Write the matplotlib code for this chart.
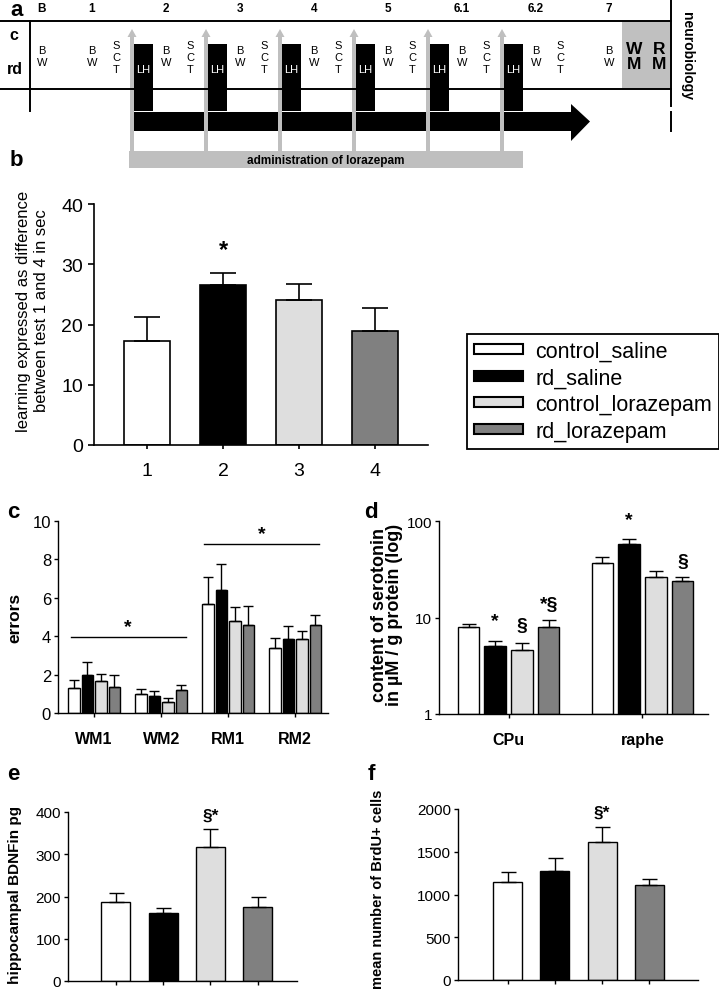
import numpy as np
import matplotlib
matplotlib.use("Agg")
import matplotlib.pyplot as plt
from matplotlib.patches import Rectangle, Polygon, Patch

plt.rcParams['font.family'] = ['Liberation Sans', 'DejaVu Sans']

# groups and colours
groups = ['control_saline', 'rd_saline', 'control_lorazepam', 'rd_lorazepam']
colors = ['white', 'black', '#dedede', '#808080']

# panel b: learning (test 1 - test 4)
b_x = [1, 2, 3, 4]
b_mean = [17.3, 26.5, 24.1, 19.0]
b_err = [4.0, 2.1, 2.7, 3.7]

# panel c: errors in maze
c_cats = ['WM1', 'WM2', 'RM1', 'RM2']
c_ctrl_sal = [1.3, 1.0, 5.7, 3.4]
c_rd_sal = [2.0, 0.9, 6.4, 3.85]
c_ctrl_lor = [1.68, 0.55, 4.8, 3.85]
c_rd_lor = [1.37, 1.18, 4.56, 4.56]
c_ctrl_sal_err = [0.4, 0.25, 1.4, 0.5]
c_rd_sal_err = [0.67, 0.25, 1.36, 0.7]
c_ctrl_lor_err = [0.35, 0.25, 0.73, 0.43]
c_rd_lor_err = [0.61, 0.28, 1.0, 0.55]

# panel d: serotonin (log)
d_cats = ['CPu', 'raphe']
d_ctrl_sal = [7.9, 37.0]
d_rd_sal = [5.1, 58.0]
d_ctrl_lor = [4.6, 26.5]
d_rd_lor = [7.9, 24.0]
d_ctrl_sal_err = [0.6, 5.0]
d_rd_sal_err = [0.6, 7.0]
d_ctrl_lor_err = [0.8, 3.5]
d_rd_lor_err = [1.6, 2.0]

# panel e: BDNF
e_mean = [188, 162, 318, 175]
e_err = [20, 11, 41, 25]

# panel f: BrdU+ cells
f_mean = [1148, 1277, 1617, 1109]
f_err = [110, 153, 176, 71]

# panel a: schedule
head_labels = ['B', '1', '2', '3', '4', '5', '6.1', '6.2', '7']
lh_blocks = ['2', '3', '4', '5', '6.1', '6.2']

W, H = 719, 995
fig = plt.figure(figsize=(W / 100, H / 100), dpi=100)

def px_axes(l, r, t, b):
    return fig.add_axes([l / W, 1 - b / H, (r - l) / W, (b - t) / H])

# ---------------- panel a (drawn in pixel coords) ----------------
ax0 = fig.add_axes([0, 0, 1, 1])
ax0.set_xlim(0, W)
ax0.set_ylim(H, 0)
ax0.axis('off')

grey = '#bfbfbf'
step = 74
ax0.add_patch(Rectangle((622, 22), 49, 68, fc='#c0c0c0', ec='none'))
ax0.plot([0, 671], [22, 22], 'k', lw=1.4)
ax0.plot([0, 671], [90, 90], 'k', lw=1.4)
ax0.plot([30, 30], [22, 112], 'k', lw=1.4)
ax0.plot([671, 671], [0, 107], 'k', lw=1.4)
ax0.plot([671, 671], [113, 132], 'k', lw=1.4)

head_x = [42, 92] + [166 + step * i for i in range(6)] + [609]
for lab, x in zip(head_labels, head_x):
    ax0.text(x, 9, lab, ha='center', va='center', fontsize=8.5, fontweight='bold')

ax0.text(14, 36, 'c', ha='center', va='center', fontsize=11.5, fontweight='bold')
ax0.text(15, 69, 'rd', ha='center', va='center', fontsize=11.5, fontweight='bold')

bw_x = [42, 92] + [166 + step * i for i in range(6)] + [609]
for x in bw_x:
    ax0.text(x, 57, 'B\nW', ha='center', va='center', fontsize=8, linespacing=1.25)
sct_x = [116 + step * i for i in range(7)]
for x in sct_x:
    ax0.text(x, 58, 'S\nC\nT', ha='center', va='center', fontsize=8, linespacing=1.25)

# black arrow
ax0.add_patch(Polygon([(134, 113), (571, 113), (571, 105), (590, 122.5),
                       (571, 142), (571, 132), (134, 132)], closed=True,
                      fc='black', ec='none'))
for i, lab in enumerate(lh_blocks):
    x = 134 + step * i
    ax0.add_patch(Rectangle((x, 45), 19, 67, fc='black', ec='none'))
    ax0.text(x + 9.5, 70, 'LH', color='white', ha='center', va='center', fontsize=8)

# grey arrows + admin bar
ax0.add_patch(Rectangle((129, 152), 394, 17, fc=grey, ec='none'))
for i in range(6):
    cx = 132 + step * i
    ax0.add_patch(Rectangle((cx - 2, 37), 4, 116, fc=grey, ec='none'))
    ax0.add_patch(Polygon([(cx - 4.5, 38), (cx + 4.5, 38), (cx, 30)], closed=True,
                          fc=grey, ec='none'))
ax0.text(326, 161, 'administration of lorazepam', ha='center', va='center',
         fontsize=8.5, fontweight='bold')

ax0.text(634, 57, 'W\nM', ha='center', va='center', fontsize=12.5, fontweight='bold',
         linespacing=1.05)
ax0.text(659, 57, 'R\nM', ha='center', va='center', fontsize=12.5, fontweight='bold',
         linespacing=1.05)
ax0.text(687, 56, 'neurobiology', ha='center', va='center', rotation=-90,
         fontsize=10, fontweight='bold')

# panel letters
for lab, x, y in [('a', 17, 10), ('b', 16, 160), ('c', 13, 513), ('d', 371, 513),
                  ('e', 13, 775), ('f', 371, 775)]:
    ax0.text(x, y, lab, ha='center', va='center', fontsize=16, fontweight='bold')


def style(ax, lw=1.0):
    for s in ['top', 'right']:
        ax.spines[s].set_visible(False)
    for s in ['left', 'bottom']:
        ax.spines[s].set_linewidth(lw)
    ax.tick_params(direction='out', length=3, width=lw)


# ---------------- panel b ----------------
axb = px_axes(94, 428, 205, 446)
style(axb, 1.2)
axb.bar(b_x, b_mean, width=0.6, color=colors, edgecolor='black', linewidth=1.2, zorder=2)
axb.errorbar(b_x, b_mean, yerr=[np.zeros(4), b_err], fmt='none', ecolor='black',
             elinewidth=1.2, capsize=9.5, capthick=1.2, zorder=3)
axb.set_xlim(0.3, 4.7)
axb.set_ylim(0, 40)
axb.set_yticks([0, 10, 20, 30, 40])
axb.set_xticks(b_x)
axb.tick_params(axis='y', length=4, labelsize=14, pad=4)
axb.tick_params(axis='x', length=3, labelsize=14, pad=9)
axb.text(2, 32.5, '*', ha='center', va='center', fontsize=17, fontweight='bold')
fig.text(33 / W, 1 - 311 / H, 'learning expressed as difference\nbetween test 1 and 4 in sec',
         rotation=90, ha='center', va='center', fontsize=12, linespacing=1.25)

handles = [Patch(facecolor=c, edgecolor='black', linewidth=1.5) for c in colors]
leg = fig.legend(handles, groups, loc='upper left', bbox_to_anchor=(467 / W, 1 - 335 / H),
                 bbox_transform=fig.transFigure, borderaxespad=0, fontsize=15.5,
                 handlelength=2.3, handleheight=0.35, labelspacing=0.26, fancybox=False,
                 edgecolor='black', framealpha=1, borderpad=0.32, handletextpad=0.55)
leg.get_frame().set_linewidth(1.3)

# ---------------- panel c ----------------
axc = px_axes(58, 328, 522, 714)
style(axc)
c_means = [c_ctrl_sal, c_rd_sal, c_ctrl_lor, c_rd_lor]
c_errs = [c_ctrl_sal_err, c_rd_sal_err, c_ctrl_lor_err, c_rd_lor_err]
xc = np.arange(len(c_cats))
for i in range(4):
    xs = xc + (i - 1.5) * 0.2
    axc.bar(xs, c_means[i], width=0.17, color=colors[i], edgecolor='black', linewidth=1.0, zorder=2)
    axc.errorbar(xs, c_means[i], yerr=[np.zeros(4), c_errs[i]], fmt='none', ecolor='black',
                 elinewidth=1.0, capsize=3.5, capthick=1.0, zorder=3)
axc.set_xlim(-0.54, 3.49)
axc.set_ylim(0, 10)
axc.set_yticks([0, 2, 4, 6, 8, 10])
axc.set_xticks(xc)
axc.set_xticklabels(c_cats, fontweight='bold')
axc.tick_params(axis='y', labelsize=12, pad=2)
axc.tick_params(axis='x', labelsize=11.5, pad=10)
axc.plot([-0.35, 1.37], [3.97, 3.97], 'k', lw=1.0)
axc.plot([1.64, 3.36], [8.82, 8.82], 'k', lw=1.0)
axc.text(0.5, 4.5, '*', ha='center', va='center', fontsize=14, fontweight='bold')
axc.text(2.5, 9.35, '*', ha='center', va='center', fontsize=14, fontweight='bold')
fig.text(15 / W, 1 - 618 / H, 'errors', rotation=90, ha='center', va='center',
         fontsize=12.5, fontweight='bold')

# ---------------- panel d ----------------
axd = px_axes(439, 708, 522, 715)
style(axd)
axd.set_yscale('log')
d_means = [d_ctrl_sal, d_rd_sal, d_ctrl_lor, d_rd_lor]
d_errs = [d_ctrl_sal_err, d_rd_sal_err, d_ctrl_lor_err, d_rd_lor_err]
xd = np.arange(len(d_cats))
for i in range(4):
    xs = xd + (i - 1.5) * 0.199
    vals = np.array(d_means[i])
    axd.bar(xs, vals - 1, bottom=1, width=0.162, color=colors[i], edgecolor='black',
            linewidth=1.0, zorder=2)
    axd.errorbar(xs, vals, yerr=[np.zeros(2), d_errs[i]], fmt='none', ecolor='black',
                 elinewidth=1.0, capsize=4.8, capthick=1.0, zorder=3)
axd.set_xlim(-0.52, 1.49)
axd.set_ylim(1, 100)
axd.set_yticks([1, 10, 100])
axd.set_yticklabels(['1', '10', '100'])
axd.yaxis.set_minor_locator(matplotlib.ticker.NullLocator())
axd.set_xticks(xd)
axd.set_xticklabels(d_cats, fontweight='bold')
axd.tick_params(axis='y', labelsize=11, pad=2)
axd.tick_params(axis='x', labelsize=11.5, pad=10)
for x, y, s in [(-0.1, 9.3, '*'), (0.1, 8.3, '§'), (0.3, 13.8, '*§'),
                (0.9, 104, '*'), (1.3, 38, '§')]:
    axd.text(x, y, s, ha='center', va='center', fontsize=14, fontweight='bold')
fig.text(387 / W, 1 - 615 / H, 'content of serotonin\nin µM / g protein (log)', rotation=90,
         ha='center', va='center', fontsize=13, fontweight='bold', linespacing=0.88)

# ---------------- panel e ----------------
axe = px_axes(68, 297, 813, 982)
style(axe)
xe = np.arange(1, 5)
axe.bar(xe, e_mean, width=0.61, color=colors, edgecolor='black', linewidth=1.0, zorder=2)
axe.errorbar(xe, e_mean, yerr=[np.zeros(4), e_err], fmt='none', ecolor='black',
             elinewidth=1.0, capsize=5.4, capthick=1.0, zorder=3)
axe.set_xlim(-0.01, 4.83)
axe.set_ylim(0, 400)
axe.set_yticks([0, 100, 200, 300, 400])
axe.set_xticks(xe)
axe.set_xticklabels([])
axe.tick_params(axis='y', labelsize=11, pad=2)
axe.text(3, 392, '§*', ha='center', va='center', fontsize=12.5, fontweight='bold')
fig.text(15 / W, 1 - 895 / H, 'hippocampal BDNFin pg', rotation=90, ha='center',
         va='center', fontsize=11, fontweight='bold')

# ---------------- panel f ----------------
axf = px_axes(458, 698, 810, 981)
style(axf)
xf = np.arange(1, 5)
axf.bar(xf, f_mean, width=0.61, color=colors, edgecolor='black', linewidth=1.0, zorder=2)
axf.errorbar(xf, f_mean, yerr=[np.zeros(4), f_err], fmt='none', ecolor='black',
             elinewidth=1.0, capsize=5.4, capthick=1.0, zorder=3)
axf.set_xlim(-0.05, 5.03)
axf.set_ylim(0, 2000)
axf.set_yticks([0, 500, 1000, 1500, 2000])
axf.set_xticks(xf)
axf.set_xticklabels([])
axf.tick_params(axis='y', labelsize=11, pad=2)
axf.text(3, 1965, '§*', ha='center', va='center', fontsize=12.5, fontweight='bold')
fig.text(378 / W, 1 - 889 / H, 'mean number of BrdU+ cells', rotation=90, ha='center',
         va='center', fontsize=10.5, fontweight='bold')

fig.savefig('out.png', dpi=100)
